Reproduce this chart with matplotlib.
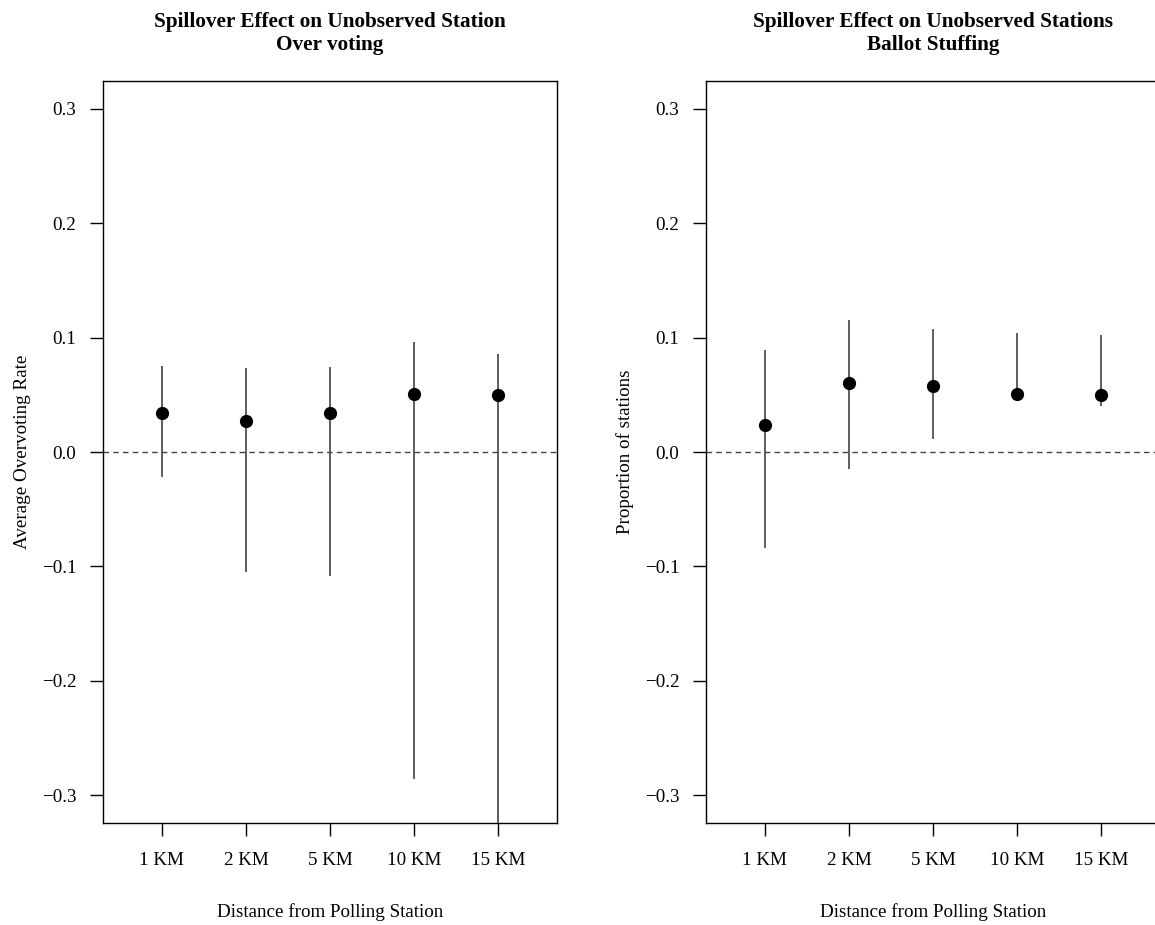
import matplotlib.pyplot as plt

plt.rcParams['font.family'] = ['Liberation Serif', 'DejaVu Serif']

labels = ['1 KM', '2 KM', '5 KM', '10 KM', '15 KM']

# over voting
ov_est = [0.034, 0.027, 0.034, 0.051, 0.050]
ov_lo = [-0.022, -0.105, -0.108, -0.286, -0.40]
ov_hi = [0.075, 0.073, 0.074, 0.096, 0.086]

# ballot stuffing
bs_est = [0.024, 0.060, 0.058, 0.051, 0.050]
bs_lo = [-0.084, -0.015, 0.011, 0.048, 0.040]
bs_hi = [0.089, 0.115, 0.107, 0.104, 0.102]

fig = plt.figure(figsize=(11.55, 9.25), dpi=100)
ax1 = fig.add_axes([0.0892, 0.1103, 0.3931, 0.8021])
ax2 = fig.add_axes([0.6113, 0.1103, 0.3931, 0.8021])


def panel(ax, est, lo, hi, title, ylab):
	x = list(range(1, len(est) + 1))
	ax.vlines(x, lo, hi, color='#333333', lw=1.1)
	ax.plot(x, est, 'o', color='black', ms=8.5)
	ax.axhline(0, color='#444444', lw=1, ls=(0, (4, 3)))
	ax.set_xlim(0.3, 5.7)
	ax.set_ylim(-0.324, 0.324)
	ax.set_yticks([-0.3, -0.2, -0.1, 0.0, 0.1, 0.2, 0.3])
	ax.set_yticklabels(['\u22120.3', '\u22120.2', '\u22120.1', '0.0', '0.1', '0.2', '0.3'])
	ax.set_xticks(x)
	ax.set_xticklabels(labels)
	ax.tick_params(axis='both', length=9.2, width=1, labelsize=13.7, direction='out')
	ax.tick_params(axis='x', pad=12)
	ax.tick_params(axis='y', pad=10)
	for s in ax.spines.values():
		s.set_linewidth(1)
	ax.set_title(title, fontsize=15.3, fontweight='bold', pad=22, linespacing=1.26)
	ax.set_xlabel('Distance from Polling Station', fontsize=13.7, labelpad=24)
	ax.set_ylabel(ylab, fontsize=13.7)
	ax.yaxis.set_label_coords(-0.158, 0.5)


panel(ax1, ov_est, ov_lo, ov_hi,
	'Spillover Effect on Unobserved Station\nOver voting', 'Average Overvoting Rate')
panel(ax2, bs_est, bs_lo, bs_hi,
	'Spillover Effect on Unobserved Stations\nBallot Stuffing', 'Proportion of stations')

fig.savefig('out.png', dpi=100)
